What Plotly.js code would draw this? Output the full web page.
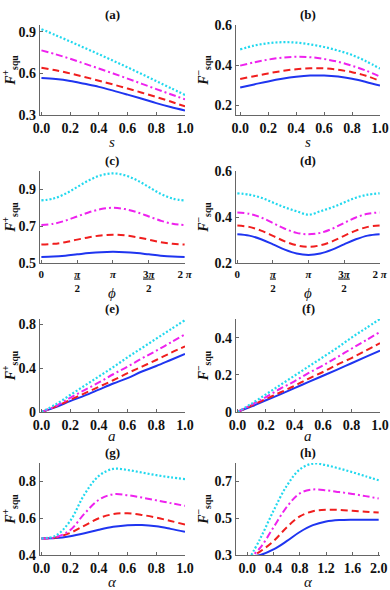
<!DOCTYPE html>
<html>
<head>
<meta charset="utf-8">
<script src="https://cdn.plot.ly/plotly-3.0.1.min.js"></script>
<style>
  html, body { margin: 0; padding: 0; background: #fff; }
  #plot { width: 390px; height: 590px; }
</style>
</head>
<body>
<div id="plot"></div>
<script>
// values
var sA = [0.0, 0.1, 0.2, 0.3, 0.4, 0.5, 0.6, 0.7, 0.8, 0.9, 1.0];
var aBlue    = [0.567, 0.560, 0.546, 0.525, 0.503, 0.476, 0.447, 0.417, 0.386, 0.358, 0.333];
var aRed     = [0.642, 0.623, 0.600, 0.575, 0.548, 0.520, 0.491, 0.461, 0.430, 0.397, 0.362];
var aMagenta = [0.767, 0.738, 0.706, 0.671, 0.636, 0.600, 0.563, 0.525, 0.487, 0.450, 0.413];
var aCyan    = [0.920, 0.876, 0.831, 0.785, 0.739, 0.692, 0.644, 0.595, 0.545, 0.495, 0.445];

var bBlue    = [0.288, 0.303, 0.318, 0.331, 0.341, 0.347, 0.347, 0.342, 0.331, 0.315, 0.297];
var bRed     = [0.330, 0.344, 0.358, 0.370, 0.379, 0.384, 0.383, 0.376, 0.364, 0.346, 0.320];
var bMagenta = [0.397, 0.413, 0.427, 0.437, 0.441, 0.439, 0.430, 0.416, 0.396, 0.372, 0.342];
var bCyan    = [0.478, 0.497, 0.509, 0.514, 0.512, 0.503, 0.490, 0.472, 0.450, 0.419, 0.382];

var phi = [0, 0.524, 1.047, 1.571, 2.094, 2.618, 3.142, 3.665, 4.189, 4.712, 5.236, 5.760, 6.283];
var cBlue    = [0.533, 0.535, 0.540, 0.547, 0.554, 0.559, 0.561, 0.559, 0.554, 0.547, 0.540, 0.535, 0.533];
var cRed     = [0.600, 0.604, 0.613, 0.627, 0.640, 0.650, 0.654, 0.650, 0.640, 0.627, 0.613, 0.604, 0.600];
var cMagenta = [0.706, 0.713, 0.730, 0.753, 0.776, 0.793, 0.800, 0.793, 0.776, 0.753, 0.730, 0.713, 0.706];
var cCyan    = [0.840, 0.850, 0.876, 0.913, 0.950, 0.977, 0.987, 0.977, 0.950, 0.913, 0.876, 0.850, 0.840];

var dBlue    = [0.325, 0.319, 0.303, 0.281, 0.258, 0.241, 0.235, 0.241, 0.258, 0.281, 0.303, 0.319, 0.325];
var dRed     = [0.363, 0.357, 0.341, 0.318, 0.294, 0.277, 0.270, 0.277, 0.294, 0.318, 0.341, 0.357, 0.363];
var dMagenta = [0.420, 0.414, 0.398, 0.374, 0.349, 0.331, 0.325, 0.331, 0.349, 0.374, 0.398, 0.414, 0.420];
var dCyan    = [0.503, 0.497, 0.484, 0.463, 0.442, 0.425, 0.410, 0.425, 0.442, 0.463, 0.484, 0.497, 0.503];

var eBlue    = [0, 0.045, 0.100, 0.150, 0.205, 0.260, 0.310, 0.370, 0.420, 0.475, 0.530];
var eRed     = [0, 0.050, 0.110, 0.170, 0.230, 0.290, 0.355, 0.415, 0.475, 0.540, 0.600];
var eMagenta = [0, 0.055, 0.130, 0.200, 0.270, 0.345, 0.415, 0.490, 0.560, 0.635, 0.710];
var eCyan    = [0, 0.070, 0.155, 0.240, 0.325, 0.410, 0.500, 0.585, 0.670, 0.755, 0.840];

var fBlue    = [0, 0.030, 0.063, 0.095, 0.128, 0.162, 0.195, 0.228, 0.262, 0.296, 0.330];
var fRed     = [0, 0.035, 0.070, 0.105, 0.140, 0.180, 0.215, 0.255, 0.290, 0.330, 0.370];
var fMagenta = [0, 0.040, 0.080, 0.125, 0.165, 0.210, 0.250, 0.295, 0.340, 0.385, 0.430];
var fCyan    = [0, 0.045, 0.095, 0.145, 0.195, 0.245, 0.295, 0.345, 0.400, 0.450, 0.500];

var gBlue    = [0.490, 0.492, 0.502, 0.518, 0.537, 0.553, 0.562, 0.563, 0.556, 0.542, 0.526];
var gRed     = [0.490, 0.495, 0.520, 0.560, 0.600, 0.622, 0.627, 0.618, 0.603, 0.585, 0.565];
var gMagenta = [0.490, 0.497, 0.535, 0.625, 0.700, 0.730, 0.725, 0.712, 0.697, 0.682, 0.667];
var gCyan    = [0.490, 0.505, 0.585, 0.730, 0.830, 0.868, 0.862, 0.848, 0.834, 0.822, 0.812];

var alphaH = [0.0, 0.2, 0.4, 0.6, 0.8, 1.0, 1.2, 1.4, 1.6, 1.8, 2.0];
var hBlue    = [0.290, 0.300, 0.330, 0.375, 0.425, 0.462, 0.482, 0.490, 0.492, 0.492, 0.492];
var hRed     = [0.280, 0.320, 0.375, 0.450, 0.510, 0.538, 0.546, 0.545, 0.540, 0.535, 0.531];
var hMagenta = [0.270, 0.340, 0.450, 0.560, 0.635, 0.656, 0.652, 0.642, 0.632, 0.620, 0.607];
var hCyan    = [0.260, 0.390, 0.540, 0.675, 0.765, 0.797, 0.788, 0.770, 0.750, 0.728, 0.706];

var unitTicks = ['0.0', '0.2', '0.4', '0.6', '0.8', '1.0'];
var piTicks = ['0', '<u><i>π</i></u><br>2', '<i>π</i>', '<u>3<i>π</i></u><br>2', '2 <i>π</i>'];
var alphaTicks = ['0.0', '0.4', '0.8', '1.2', '1.6', '2.0'];

var styles = [
  {color: '#1f35f0', dash: 'solid', width: 2},
  {color: '#f01e1e', dash: '7px,4px', width: 2},
  {color: '#ee22ee', dash: '7px,3px,2px,3px', width: 2},
  {color: '#22d8ee', dash: '2px,2px', width: 2.2}
];

var panels = [
  {x: sA, ys: [aBlue, aRed, aMagenta, aCyan], label: '(a)', xt: '<i>s</i>', yt: '<i>F</i><sup>+</sup><sub>squ</sub>',
   xr: [-0.01, 1.0], yr: [0.3, 0.95], xv: [0, 0.2, 0.4, 0.6, 0.8, 1.0], xl: unitTicks, yv: [0.3, 0.6, 0.9], yl: ['0.3', '0.6', '0.9']},
  {x: sA, ys: [bBlue, bRed, bMagenta, bCyan], label: '(b)', xt: '<i>s</i>', yt: '<i>F</i><sup>−</sup><sub>squ</sub>',
   xr: [-0.03, 1.0], yr: [0.15, 0.6], xv: [0, 0.2, 0.4, 0.6, 0.8, 1.0], xl: unitTicks, yv: [0.2, 0.4, 0.6], yl: ['0.2', '0.4', '0.6']},
  {x: phi, ys: [cBlue, cRed, cMagenta, cCyan], label: '(c)', xt: '<i>ϕ</i>', yt: '<i>F</i><sup>+</sup><sub>squ</sub>',
   xr: [-0.06, 6.30], yr: [0.5, 1.0], xv: [0, 1.5708, 3.1416, 4.7124, 6.2832], xl: piTicks, yv: [0.5, 0.7, 0.9], yl: ['0.5', '0.7', '0.9']},
  {x: phi, ys: [dBlue, dRed, dMagenta, dCyan], label: '(d)', xt: '<i>ϕ</i>', yt: '<i>F</i><sup>−</sup><sub>squ</sub>',
   xr: [-0.06, 6.30], yr: [0.2, 0.6], xv: [0, 1.5708, 3.1416, 4.7124, 6.2832], xl: piTicks, yv: [0.2, 0.4, 0.6], yl: ['0.2', '0.4', '0.6']},
  {x: sA, ys: [eBlue, eRed, eMagenta, eCyan], label: '(e)', xt: '<i>a</i>', yt: '<i>F</i><sup>+</sup><sub>squ</sub>',
   xr: [-0.01, 1.0], yr: [0, 0.85], xv: [0, 0.2, 0.4, 0.6, 0.8, 1.0], xl: unitTicks, yv: [0, 0.4, 0.8], yl: ['0', '0.4', '0.8']},
  {x: sA, ys: [fBlue, fRed, fMagenta, fCyan], label: '(f)', xt: '<i>a</i>', yt: '<i>F</i><sup>−</sup><sub>squ</sub>',
   xr: [-0.01, 1.0], yr: [0, 0.5], xv: [0, 0.2, 0.4, 0.6, 0.8, 1.0], xl: unitTicks, yv: [0, 0.2, 0.4], yl: ['0', '0.2', '0.4']},
  {x: sA, ys: [gBlue, gRed, gMagenta, gCyan], label: '(g)', xt: '<i>α</i>', yt: '<i>F</i><sup>+</sup><sub>squ</sub>',
   xr: [-0.01, 1.0], yr: [0.4, 0.9], xv: [0, 0.2, 0.4, 0.6, 0.8, 1.0], xl: unitTicks, yv: [0.4, 0.6, 0.8], yl: ['0.4', '0.6', '0.8']},
  {x: alphaH, ys: [hBlue, hRed, hMagenta, hCyan], label: '(h)', xt: '<i>α</i>', yt: '<i>F</i><sup>−</sup><sub>squ</sub>',
   xr: [-0.17, 2.02], yr: [0.3, 0.8], xv: [0, 0.4, 0.8, 1.2, 1.6, 2.0], xl: alphaTicks, yv: [0.3, 0.5, 0.7], yl: ['0.3', '0.5', '0.7']}
];

// subplot boxes in pixels: columns and rows, plus where the x titles sit
var colX = [[40, 185], [236, 380]];
var rowY = [[25, 115], [171, 263], [319, 412], [463, 555]];
var xTitleY = [142, 293, 436, 582];
var W = 390, H = 590;

var serif = 'Liberation Serif';
var data = [];
var layout = {
  width: W, height: H,
  margin: {l: 0, r: 0, t: 0, b: 0},
  paper_bgcolor: '#fff', plot_bgcolor: '#fff',
  showlegend: false,
  font: {family: serif, color: '#111'},
  annotations: []
};

function bold(list) {
  return list.map(function (t) { return '<b>' + t + '</b>'; });
}

panels.forEach(function (p, i) {
  var n = i + 1;
  var suf = n === 1 ? '' : String(n);
  var col = colX[i % 2], r = Math.floor(i / 2), row = rowY[r];
  p.ys.forEach(function (y, k) {
    data.push({
      x: p.x, y: y, type: 'scatter', mode: 'lines',
      xaxis: 'x' + suf, yaxis: 'y' + suf,
      line: {color: styles[k].color, dash: styles[k].dash, width: styles[k].width, shape: 'spline', smoothing: 1},
      hoverinfo: 'skip'
    });
  });
  var isPi = p.x === phi;
  layout['xaxis' + suf] = {
    domain: [col[0] / W, col[1] / W], anchor: 'y' + suf,
    range: p.xr, showgrid: false, zeroline: false,
    showline: true, linecolor: '#666', linewidth: 1.3,
    ticks: 'inside', ticklen: 3, tickcolor: '#666',
    tickvals: p.xv, ticktext: bold(p.xl),
    tickfont: {family: serif, size: isPi ? 11 : 14, color: '#111'}
  };
  layout['yaxis' + suf] = {
    domain: [1 - row[1] / H, 1 - row[0] / H], anchor: 'x' + suf,
    range: p.yr, showgrid: false, zeroline: false,
    showline: true, linecolor: '#666', linewidth: 1.3,
    ticks: 'inside', ticklen: 3, tickcolor: '#666',
    tickvals: p.yv, ticktext: bold(p.yl),
    tickfont: {family: serif, size: 14, color: '#111'},
    title: {text: '<b>' + p.yt + '</b>', font: {family: serif, size: 14, color: '#111'}, standoff: 2}
  };
  layout.annotations.push({
    text: '<b>' + p.label + '</b>', showarrow: false,
    xref: 'paper', yref: 'paper',
    x: (col[0] + col[1]) / 2 / W, y: 1 - row[0] / H,
    xanchor: 'center', yanchor: 'bottom', yshift: 1,
    font: {family: serif, size: 13, color: '#111'}
  });
  layout.annotations.push({
    text: p.xt, showarrow: false,
    xref: 'paper', yref: 'paper',
    x: (col[0] + col[1]) / 2 / W, y: 1 - xTitleY[r] / H,
    xanchor: 'center', yanchor: 'middle',
    font: {family: serif, size: 15, color: '#111'}
  });
});

Plotly.newPlot('plot', data, layout, {staticPlot: true});
</script>
</body>
</html>
